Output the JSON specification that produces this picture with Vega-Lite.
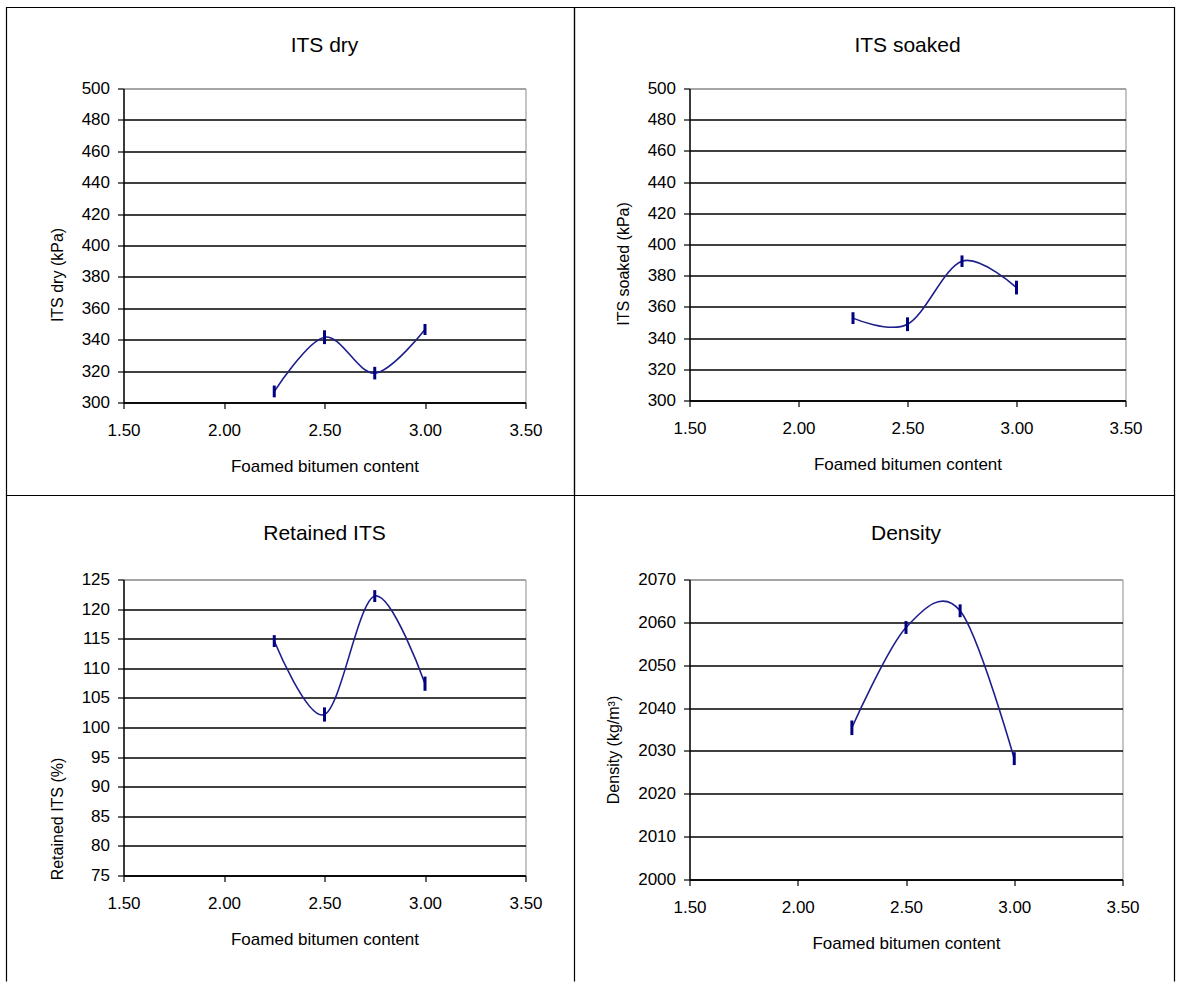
{
  "$schema": "https://vega.github.io/schema/vega-lite/v6.json",
  "background": "white",
  "padding": {"left": 4.5, "top": 5.5, "right": 0, "bottom": 0},
  "datasets": {
    "dry": [
      {"x": 2.25, "y": 307.0, "lo": 303.3, "hi": 310.8},
      {"x": 2.5, "y": 341.6, "lo": 337.2, "hi": 346.0},
      {"x": 2.75, "y": 318.7, "lo": 314.7, "hi": 322.7},
      {"x": 3.0, "y": 346.5, "lo": 343.0, "hi": 350.0}
    ],
    "soaked": [
      {"x": 2.25, "y": 352.8, "lo": 349.0, "hi": 356.6},
      {"x": 2.5, "y": 348.9, "lo": 344.5, "hi": 353.3},
      {"x": 2.75, "y": 389.3, "lo": 385.6, "hi": 393.0},
      {"x": 3.0, "y": 372.4, "lo": 368.0, "hi": 376.8}
    ],
    "retained": [
      {"x": 2.25, "y": 114.6, "lo": 113.6, "hi": 115.6},
      {"x": 2.5, "y": 102.2, "lo": 101.0, "hi": 103.4},
      {"x": 2.75, "y": 122.2, "lo": 121.2, "hi": 123.2},
      {"x": 3.0, "y": 107.4, "lo": 106.2, "hi": 108.6}
    ],
    "density": [
      {"x": 2.25, "y": 2035.4, "lo": 2033.7, "hi": 2037.1},
      {"x": 2.5, "y": 2058.8, "lo": 2057.3, "hi": 2060.3},
      {"x": 2.75, "y": 2062.7, "lo": 2061.2, "hi": 2064.2},
      {"x": 3.0, "y": 2028.2, "lo": 2026.7, "hi": 2029.7}
    ]
  },
  "columns": 2,
  "bounds": "flush",
  "spacing": {"row": 177, "column": 164},
  "concat": [
    {
      "width": 402, "height": 314,
      "title": {"text": "ITS dry", "offset": -49.5},
      "layer": [
        {
          "data": {"name": "dry"},
          "mark": {"type": "line", "interpolate": "cardinal", "color": "#1e1e8c", "strokeWidth": 1.6},
          "encoding": {
            "x": {"field": "x", "type": "quantitative", "title": "Foamed bitumen content",
                  "scale": {"domain": [1.5, 3.5], "nice": false, "zero": false},
                  "axis": {"values": [1.5, 2, 2.5, 3, 3.5], "format": ".2f"}},
            "y": {"field": "y", "type": "quantitative", "title": "ITS dry (kPa)",
                  "scale": {"domain": [300, 500], "nice": false, "zero": false},
                  "axis": {"values": [300, 320, 340, 360, 380, 400, 420, 440, 460, 480, 500], "titleY": 186, "grid": true,
                           "gridColor": {"condition": {"test": "datum.value >= 500", "value": "#9a9a9a"}, "value": "black"}}}
          }
        },
        {
          "data": {"name": "dry"},
          "mark": {"type": "rule", "color": "#000080", "strokeWidth": 3},
          "encoding": {
            "x": {"field": "x", "type": "quantitative", "title": "Foamed bitumen content",
                  "axis": {"values": [1.5, 2, 2.5, 3, 3.5], "format": ".2f"}},
            "y": {"field": "lo", "type": "quantitative", "title": "ITS dry (kPa)",
                  "axis": {"values": [300, 320, 340, 360, 380, 400, 420, 440, 460, 480, 500], "titleY": 186, "grid": true,
                           "gridColor": {"condition": {"test": "datum.value >= 500", "value": "#9a9a9a"}, "value": "black"}}},
            "y2": {"field": "hi"}
          }
        },
        {
          "data": {"values": [{}]},
          "mark": {"type": "rect", "filled": false, "stroke": "black", "strokeWidth": 1.2, "clip": false},
          "encoding": {
            "x": {"datum": 0.91791, "type": "quantitative", "title": "Foamed bitumen content",
                  "axis": {"values": [1.5, 2, 2.5, 3, 3.5], "format": ".2f"}},
            "x2": {"datum": 3.74378},
            "y": {"datum": 551.59, "type": "quantitative", "title": "ITS dry (kPa)",
                  "axis": {"values": [300, 320, 340, 360, 380, 400, 420, 440, 460, 480, 500], "titleY": 186, "grid": true,
                           "gridColor": {"condition": {"test": "datum.value >= 500", "value": "#9a9a9a"}, "value": "black"}}},
            "y2": {"datum": 240.76}
          }
        }
      ]
    },
    {
      "width": 436, "height": 312,
      "title": {"text": "ITS soaked", "offset": -49.5},
      "layer": [
        {
          "data": {"name": "soaked"},
          "mark": {"type": "line", "interpolate": "cardinal", "color": "#1e1e8c", "strokeWidth": 1.6},
          "encoding": {
            "x": {"field": "x", "type": "quantitative", "title": "Foamed bitumen content",
                  "scale": {"domain": [1.5, 3.5], "nice": false, "zero": false},
                  "axis": {"values": [1.5, 2, 2.5, 3, 3.5], "format": ".2f"}},
            "y": {"field": "y", "type": "quantitative", "title": "ITS soaked (kPa)",
                  "scale": {"domain": [300, 500], "nice": false, "zero": false},
                  "axis": {"values": [300, 320, 340, 360, 380, 400, 420, 440, 460, 480, 500], "titleY": 175, "grid": true,
                           "gridColor": {"condition": {"test": "datum.value >= 500", "value": "#9a9a9a"}, "value": "black"}}}
          }
        },
        {
          "data": {"name": "soaked"},
          "mark": {"type": "rule", "color": "#000080", "strokeWidth": 3},
          "encoding": {
            "x": {"field": "x", "type": "quantitative", "title": "Foamed bitumen content",
                  "axis": {"values": [1.5, 2, 2.5, 3, 3.5], "format": ".2f"}},
            "y": {"field": "lo", "type": "quantitative", "title": "ITS soaked (kPa)",
                  "axis": {"values": [300, 320, 340, 360, 380, 400, 420, 440, 460, 480, 500], "titleY": 175, "grid": true,
                           "gridColor": {"condition": {"test": "datum.value >= 500", "value": "#9a9a9a"}, "value": "black"}}},
            "y2": {"field": "hi"}
          }
        },
        {
          "data": {"values": [{}]},
          "mark": {"type": "rect", "filled": false, "stroke": "black", "strokeWidth": 1.2, "clip": false},
          "encoding": {
            "x": {"datum": 0.97248, "type": "quantitative", "title": "Foamed bitumen content",
                  "axis": {"values": [1.5, 2, 2.5, 3, 3.5], "format": ".2f"}},
            "x2": {"datum": 3.72477},
            "y": {"datum": 551.92, "type": "quantitative", "title": "ITS soaked (kPa)",
                  "axis": {"values": [300, 320, 340, 360, 380, 400, 420, 440, 460, 480, 500], "titleY": 175, "grid": true,
                           "gridColor": {"condition": {"test": "datum.value >= 500", "value": "#9a9a9a"}, "value": "black"}}},
            "y2": {"datum": 239.10}
          }
        }
      ]
    },
    {
      "width": 402, "height": 296,
      "title": {"text": "Retained ITS", "offset": -49},
      "layer": [
        {
          "data": {"name": "retained"},
          "mark": {"type": "line", "interpolate": "cardinal", "color": "#1e1e8c", "strokeWidth": 1.6},
          "encoding": {
            "x": {"field": "x", "type": "quantitative", "title": "Foamed bitumen content",
                  "scale": {"domain": [1.5, 3.5], "nice": false, "zero": false},
                  "axis": {"values": [1.5, 2, 2.5, 3, 3.5], "format": ".2f"}},
            "y": {"field": "y", "type": "quantitative", "title": "Retained ITS (%)",
                  "scale": {"domain": [75, 125], "nice": false, "zero": false},
                  "axis": {"values": [75, 80, 85, 90, 95, 100, 105, 110, 115, 120, 125], "titleY": 239, "grid": true,
                           "gridColor": {"condition": {"test": "datum.value >= 125", "value": "#9a9a9a"}, "value": "black"}}}
          }
        },
        {
          "data": {"name": "retained"},
          "mark": {"type": "rule", "color": "#000080", "strokeWidth": 3},
          "encoding": {
            "x": {"field": "x", "type": "quantitative", "title": "Foamed bitumen content",
                  "axis": {"values": [1.5, 2, 2.5, 3, 3.5], "format": ".2f"}},
            "y": {"field": "lo", "type": "quantitative", "title": "Retained ITS (%)",
                  "axis": {"values": [75, 80, 85, 90, 95, 100, 105, 110, 115, 120, 125], "titleY": 239, "grid": true,
                           "gridColor": {"condition": {"test": "datum.value >= 125", "value": "#9a9a9a"}, "value": "black"}}},
            "y2": {"field": "hi"}
          }
        },
        {
          "data": {"values": [{}]},
          "mark": {"type": "rule", "stroke": "black", "strokeWidth": 1.2, "clip": false},
          "encoding": {
            "x": {"datum": 0.91791, "type": "quantitative", "title": "Foamed bitumen content",
                  "axis": {"values": [1.5, 2, 2.5, 3, 3.5], "format": ".2f"}},
            "x2": {"datum": 3.74378},
            "y": {"datum": 139.19, "type": "quantitative", "title": "Retained ITS (%)",
                  "axis": {"values": [75, 80, 85, 90, 95, 100, 105, 110, 115, 120, 125], "titleY": 239, "grid": true,
                           "gridColor": {"condition": {"test": "datum.value >= 125", "value": "#9a9a9a"}, "value": "black"}}}
          }
        },
        {
          "data": {"values": [{}]},
          "mark": {"type": "rule", "stroke": "black", "strokeWidth": 1.2, "clip": false},
          "encoding": {
            "x": {"datum": 0.91791, "type": "quantitative", "title": "Foamed bitumen content",
                  "axis": {"values": [1.5, 2, 2.5, 3, 3.5], "format": ".2f"}},
            "y": {"datum": 139.19, "type": "quantitative", "title": "Retained ITS (%)",
                  "axis": {"values": [75, 80, 85, 90, 95, 100, 105, 110, 115, 120, 125], "titleY": 239, "grid": true,
                           "gridColor": {"condition": {"test": "datum.value >= 125", "value": "#9a9a9a"}, "value": "black"}}},
            "y2": {"datum": 57.09}
          }
        },
        {
          "data": {"values": [{}]},
          "mark": {"type": "rule", "stroke": "black", "strokeWidth": 1.2, "clip": false},
          "encoding": {
            "x": {"datum": 3.74378, "type": "quantitative", "title": "Foamed bitumen content",
                  "axis": {"values": [1.5, 2, 2.5, 3, 3.5], "format": ".2f"}},
            "y": {"datum": 139.19, "type": "quantitative", "title": "Retained ITS (%)",
                  "axis": {"values": [75, 80, 85, 90, 95, 100, 105, 110, 115, 120, 125], "titleY": 239, "grid": true,
                           "gridColor": {"condition": {"test": "datum.value >= 125", "value": "#9a9a9a"}, "value": "black"}}},
            "y2": {"datum": 57.09}
          }
        }
      ]
    },
    {
      "width": 433, "height": 300,
      "title": {"text": "Density", "offset": -49},
      "layer": [
        {
          "data": {"name": "density"},
          "mark": {"type": "line", "interpolate": "cardinal", "color": "#1e1e8c", "strokeWidth": 1.6},
          "encoding": {
            "x": {"field": "x", "type": "quantitative", "title": "Foamed bitumen content",
                  "scale": {"domain": [1.5, 3.5], "nice": false, "zero": false},
                  "axis": {"values": [1.5, 2, 2.5, 3, 3.5], "format": ".2f"}},
            "y": {"field": "y", "type": "quantitative", "title": "Density (kg/m³)",
                  "scale": {"domain": [2000, 2070], "nice": false, "zero": false},
                  "axis": {"values": [2000, 2010, 2020, 2030, 2040, 2050, 2060, 2070], "format": "d", "titleY": 170, "grid": true,
                           "gridColor": {"condition": {"test": "datum.value >= 2070", "value": "#9a9a9a"}, "value": "black"}}}
          }
        },
        {
          "data": {"name": "density"},
          "mark": {"type": "rule", "color": "#000080", "strokeWidth": 3},
          "encoding": {
            "x": {"field": "x", "type": "quantitative", "title": "Foamed bitumen content",
                  "axis": {"values": [1.5, 2, 2.5, 3, 3.5], "format": ".2f"}},
            "y": {"field": "lo", "type": "quantitative", "title": "Density (kg/m³)",
                  "axis": {"values": [2000, 2010, 2020, 2030, 2040, 2050, 2060, 2070], "format": "d", "titleY": 170, "grid": true,
                           "gridColor": {"condition": {"test": "datum.value >= 2070", "value": "#9a9a9a"}, "value": "black"}}},
            "y2": {"field": "hi"}
          }
        },
        {
          "data": {"values": [{}]},
          "mark": {"type": "rule", "stroke": "black", "strokeWidth": 1.2, "clip": false},
          "encoding": {
            "x": {"datum": 0.96882, "type": "quantitative", "title": "Foamed bitumen content",
                  "axis": {"values": [1.5, 2, 2.5, 3, 3.5], "format": ".2f"}},
            "x2": {"datum": 3.74019},
            "y": {"datum": 2089.6, "type": "quantitative", "title": "Density (kg/m³)",
                  "axis": {"values": [2000, 2010, 2020, 2030, 2040, 2050, 2060, 2070], "format": "d", "titleY": 170, "grid": true,
                           "gridColor": {"condition": {"test": "datum.value >= 2070", "value": "#9a9a9a"}, "value": "black"}}}
          }
        },
        {
          "data": {"values": [{}]},
          "mark": {"type": "rule", "stroke": "black", "strokeWidth": 1.2, "clip": false},
          "encoding": {
            "x": {"datum": 3.74019, "type": "quantitative", "title": "Foamed bitumen content",
                  "axis": {"values": [1.5, 2, 2.5, 3, 3.5], "format": ".2f"}},
            "y": {"datum": 2089.6, "type": "quantitative", "title": "Density (kg/m³)",
                  "axis": {"values": [2000, 2010, 2020, 2030, 2040, 2050, 2060, 2070], "format": "d", "titleY": 170, "grid": true,
                           "gridColor": {"condition": {"test": "datum.value >= 2070", "value": "#9a9a9a"}, "value": "black"}}},
            "y2": {"datum": 1976.2}
          }
        }
      ]
    }
  ],
  "config": {
    "font": "Liberation Sans",
    "view": {"stroke": "#8c8c8c", "strokeWidth": 1},
    "title": {"font": "Liberation Sans", "fontSize": 21, "fontWeight": "normal", "color": "black", "anchor": "middle", "baseline": "middle"},
    "axis": {
      "labelFont": "Liberation Sans", "titleFont": "Liberation Sans",
      "labelFontSize": 17, "titleFontSize": 17, "titleFontWeight": "normal",
      "labelColor": "black", "titleColor": "black",
      "domainColor": "black", "domainWidth": 1.4, "tickColor": "black", "tickSize": 6, "tickWidth": 1.2,
      "gridColor": "black", "gridOpacity": 1, "gridWidth": 1.4,
      "labelOverlap": false
    },
    "axisX": {"grid": false, "labelPadding": 14, "titlePadding": 20, "labelFlush": false},
    "axisY": {"labelPadding": 8, "titlePadding": 16, "titleFontSize": 16}
  }
}
